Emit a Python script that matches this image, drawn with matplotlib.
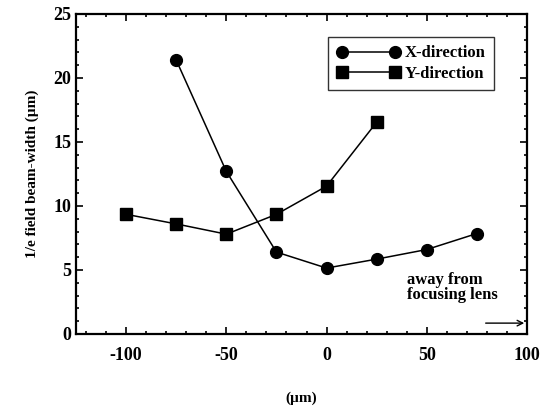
import matplotlib
matplotlib.use("Agg")
import matplotlib.pyplot as plt
from matplotlib.ticker import MultipleLocator

# positions along the beam (um)
x_pos_x = [-75, -50, -25, 0, 25, 50, 75]
x_width = [21.4, 12.7, 6.4, 5.15, 5.85, 6.6, 7.85]

y_pos = [-100, -75, -50, -25, 0, 25]
y_width = [9.35, 8.6, 7.8, 9.35, 11.55, 16.55]

plt.rcParams['font.family'] = ['Liberation Serif', 'DejaVu Serif']
plt.rcParams['font.weight'] = 'bold'
plt.rcParams['axes.labelweight'] = 'bold'
plt.rcParams['axes.unicode_minus'] = False

fig = plt.figure(figsize=(5.48, 4.08), dpi=100)
ax = fig.add_axes([76/548, 1 - 334/408, (527-76)/548, (334-14)/408])

ax.plot(x_pos_x, x_width, '-', color='black', lw=1.1, marker='o', ms=8.5,
        label='X-direction')
ax.plot(y_pos, y_width, '-', color='black', lw=1.1, marker='s', ms=8,
        label='Y-direction')

ax.set_xlim(-125, 100)
ax.set_ylim(0, 25)
ax.xaxis.set_major_locator(MultipleLocator(50))
ax.xaxis.set_minor_locator(MultipleLocator(10))
ax.yaxis.set_major_locator(MultipleLocator(5))
ax.yaxis.set_minor_locator(MultipleLocator(1))
ax.tick_params(which='both', direction='in', top=True, right=True,
               labelsize=13, width=1.2)
ax.tick_params(which='major', length=5)
ax.tick_params(which='minor', length=2.5)
ax.tick_params(axis='x', pad=9)
for s in ax.spines.values():
    s.set_linewidth(1.6)

ax.set_xlabel('(\u00b5m)', fontsize=11, labelpad=20)
ax.set_ylabel('1/e field beam-width (\u00b5m)', fontsize=11, labelpad=10)

leg = ax.legend(loc='upper right', bbox_to_anchor=(0.927, 0.928),
                borderaxespad=0, numpoints=2, handlelength=3.8, fontsize=12,
                frameon=True, fancybox=False, edgecolor='black',
                borderpad=0.5, labelspacing=0.25, handletextpad=0.3)
leg.get_frame().set_linewidth(1.0)

ax.text(40, 2.4, 'away from\nfocusing lens', fontsize=12, ha='left',
        va='bottom', linespacing=0.95)
ax.annotate('', xy=(100, 0.85), xytext=(78, 0.85),
            arrowprops=dict(arrowstyle='->', color='black', lw=1))

fig.savefig('out.png', dpi=100)
